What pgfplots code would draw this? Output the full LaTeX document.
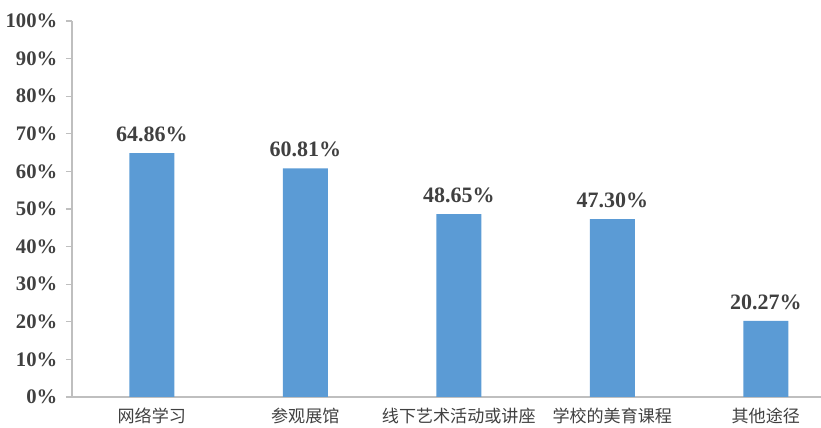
\documentclass[border=0pt]{standalone}
\usepackage{pgfplots}
\pgfplotsset{compat=1.18}
\usepackage{fontspec}
\setmainfont{Liberation Serif}
\newfontfamily\cjk{Noto Sans CJK SC}
\definecolor{barblue}{HTML}{5B9BD5}
\definecolor{axisgray}{HTML}{BFBFBF}
\definecolor{txt}{HTML}{404040}

\begin{document}
\begin{tikzpicture}[x=0.75pt,y=0.75pt]
\begin{axis}[
    scale only axis,
    width=561.75pt,
    height=282pt,
    ybar,
    bar width=33.75pt,
    xmin=-0.52, xmax=4.36,
    ymin=0, ymax=100,
    axis x line=bottom,
    axis y line=left,
    axis line style={draw=axisgray, line width=0.9pt, -},
    xtick=data,
    xticklabels={网络学习, 参观展馆, 线下艺术活动或讲座, 学校的美育课程, 其他途径},
    x tick label style={font=\cjk\fontsize{12.8}{14}\selectfont, text=txt, yshift=0pt},
    x tick style={draw=none},
    ytick={0,10,...,100},
    yticklabel={\pgfmathprintnumber{\tick}\%},
    y tick label style={font=\bfseries\fontsize{15.5}{17}\selectfont, text=txt, xshift=-3pt},
    y tick style={draw=axisgray, line width=0.9pt},
    tick align=outside,
    major tick length=4.5pt,
    /pgf/number format/assume math mode=true,
    nodes near coords={\pgfmathprintnumber[fixed,fixed zerofill,precision=2]{\pgfplotspointmeta}\%},
    nodes near coords style={font=\bfseries\fontsize{16.5}{18}\selectfont, text=txt, anchor=south, yshift=5pt, /pgf/number format/assume math mode=true},
    clip=false,
]
\addplot[fill=barblue, draw=none] coordinates {
    (0, 64.86)
    (1, 60.81)
    (2, 48.65)
    (3, 47.30)
    (4, 20.27)
};
\end{axis}
\pgfresetboundingbox
\useasboundingbox (-72,-31) rectangle (749,397);
\end{tikzpicture}
\end{document}
